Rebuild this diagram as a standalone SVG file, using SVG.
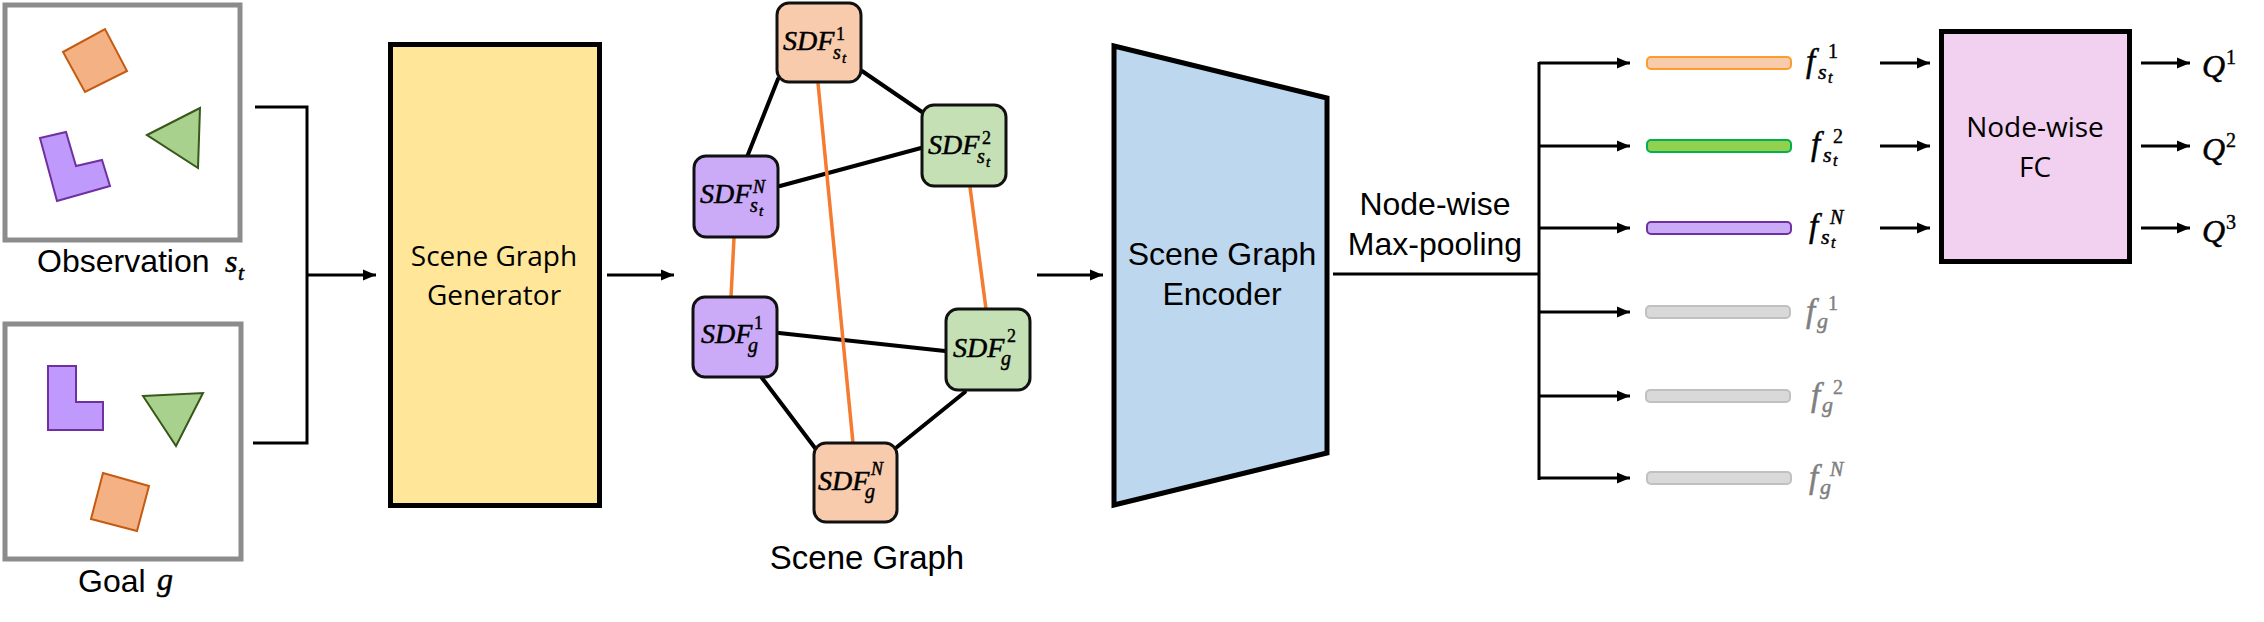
<svg xmlns="http://www.w3.org/2000/svg" width="2264" height="622" viewBox="0 0 2264 622">
<style>
.sans{font-family:"Liberation Sans",Arial,sans-serif;fill:#000}
.cal{font-family:"Open Sans","Noto Sans",sans-serif;fill:#000}
.m{font-family:"Liberation Serif","Times New Roman",serif;font-style:italic;fill:#000;stroke:#000;stroke-width:0.5}
.d{font-style:normal;stroke-width:0.4}
.gray{fill:#7f7f7f;stroke:#7f7f7f}
.frame{fill:#fff;stroke:#8c8c8c;stroke-width:5}
.node{stroke:#111;stroke-width:3}
.conn{fill:none;stroke:#000;stroke-width:3}
.edge{stroke:#000;stroke-width:4;stroke-linecap:round}
.oedge{stroke:#f57b30;stroke-width:3.5}
.bar{stroke-width:2}
</style>
<defs>
<marker id="ah" markerUnits="userSpaceOnUse" markerWidth="14" markerHeight="12" refX="13" refY="6" orient="auto">
<path d="M0,0.5 L13,6 L0,11.5 z" fill="#000"/>
</marker>
</defs>

<g id="observation">
<rect class="frame" x="5" y="5" width="235" height="235"/>
<polygon points="63,52 105,29 127,71 85,92" fill="#f4b183" stroke="#c55a11" stroke-width="2"/>
<polygon points="40,138 66,132 76,166 102,160 110,186 57,201" fill="#bf99fb" stroke="#7030a0" stroke-width="2"/>
<polygon points="147,135 200,108 198,168" fill="#a9d18e" stroke="#38571a" stroke-width="2"/>
<text class="sans" x="37" y="272" font-size="32">Observation</text>
<text class="m" font-size="32"><tspan x="225" y="272">s</tspan><tspan x="238" y="280" font-size="22">t</tspan></text>
</g>

<g id="goal">
<rect class="frame" x="5" y="324" width="236" height="235"/>
<polygon points="48,366 76,366 76,402 103,402 103,430 48,430" fill="#bf99fb" stroke="#7030a0" stroke-width="2"/>
<polygon points="143,396 203,393 176,446" fill="#a9d18e" stroke="#38571a" stroke-width="2"/>
<polygon points="103,473 149,486 137,531 91,519" fill="#f4b183" stroke="#c55a11" stroke-width="2"/>
<text class="sans" x="78" y="592" font-size="32">Goal</text>
<text class="m" x="157" y="590" font-size="32">g</text>
</g>

<g id="generator">
<rect x="390.5" y="44.5" width="209" height="461" fill="#ffe699" stroke="#000" stroke-width="5"/>
<text class="cal" x="494" y="266" font-size="28" text-anchor="middle">Scene Graph</text>
<text class="cal" x="494" y="305" font-size="28" text-anchor="middle">Generator</text>
</g>

<g id="connectors">
<polyline class="conn" points="255,107 307,107 307,443 253,443"/>
<line class="conn" x1="307" y1="275" x2="376" y2="275" marker-end="url(#ah)"/>
<line class="conn" x1="607" y1="275" x2="674" y2="275" marker-end="url(#ah)"/>
<line class="conn" x1="1037" y1="275" x2="1103" y2="275" marker-end="url(#ah)"/>
<line class="conn" x1="1333" y1="274" x2="1539" y2="274"/>
<line class="conn" x1="1539" y1="62" x2="1539" y2="480"/>
<line class="conn" x1="1539" y1="63" x2="1630" y2="63" marker-end="url(#ah)"/>
<line class="conn" x1="1539" y1="146" x2="1630" y2="146" marker-end="url(#ah)"/>
<line class="conn" x1="1539" y1="228" x2="1630" y2="228" marker-end="url(#ah)"/>
<line class="conn" x1="1539" y1="312" x2="1630" y2="312" marker-end="url(#ah)"/>
<line class="conn" x1="1539" y1="396" x2="1630" y2="396" marker-end="url(#ah)"/>
<line class="conn" x1="1539" y1="478" x2="1630" y2="478" marker-end="url(#ah)"/>
<line class="conn" x1="1880" y1="63" x2="1930" y2="63" marker-end="url(#ah)"/>
<line class="conn" x1="1880" y1="146" x2="1930" y2="146" marker-end="url(#ah)"/>
<line class="conn" x1="1880" y1="228" x2="1930" y2="228" marker-end="url(#ah)"/>
<line class="conn" x1="2141" y1="63" x2="2190" y2="63" marker-end="url(#ah)"/>
<line class="conn" x1="2141" y1="146" x2="2190" y2="146" marker-end="url(#ah)"/>
<line class="conn" x1="2141" y1="228" x2="2190" y2="228" marker-end="url(#ah)"/>
</g>

<g id="graph-edges">
<line class="edge" x1="778" y1="79" x2="747" y2="157"/>
<line class="edge" x1="862" y1="71" x2="922" y2="112"/>
<line class="edge" x1="780" y1="186" x2="921" y2="148"/>
<line class="edge" x1="779" y1="333" x2="945" y2="351"/>
<line class="edge" x1="762" y1="378" x2="815" y2="448"/>
<line class="edge" x1="965" y1="392" x2="897" y2="447"/>
<line class="oedge" x1="818" y1="83" x2="853" y2="443"/>
<line class="oedge" x1="734" y1="238" x2="731" y2="297"/>
<line class="oedge" x1="970" y1="187" x2="986" y2="309"/>
</g>

<g id="node-st1">
<rect class="node" x="777" y="3" width="84" height="79" rx="12" fill="#f8cbad"/>
<text class="m" font-size="28"><tspan x="783" y="50">SDF</tspan><tspan class="d" x="836" y="40" font-size="18">1</tspan><tspan x="833" y="59" font-size="20">s</tspan><tspan x="842" y="63" font-size="15">t</tspan></text>
</g>
<g id="node-stN">
<rect class="node" x="694" y="156" width="84" height="81" rx="12" fill="#cbaaf8"/>
<text class="m" font-size="28"><tspan x="700" y="203">SDF</tspan><tspan x="753" y="193" font-size="18">N</tspan><tspan x="750" y="212" font-size="20">s</tspan><tspan x="759" y="216" font-size="15">t</tspan></text>
</g>
<g id="node-st2">
<rect class="node" x="922" y="105" width="84" height="81" rx="12" fill="#c5e0b4"/>
<text class="m" font-size="28"><tspan x="928" y="154">SDF</tspan><tspan class="d" x="982" y="144" font-size="18">2</tspan><tspan x="977" y="163" font-size="20">s</tspan><tspan x="986" y="167" font-size="15">t</tspan></text>
</g>
<g id="node-g1">
<rect class="node" x="693" y="297" width="84" height="80" rx="12" fill="#cbaaf8"/>
<text class="m" font-size="28"><tspan x="701" y="343">SDF</tspan><tspan class="d" x="754" y="329" font-size="18">1</tspan><tspan x="748" y="352" font-size="20">g</tspan></text>
</g>
<g id="node-g2">
<rect class="node" x="946" y="309" width="84" height="81" rx="12" fill="#c5e0b4"/>
<text class="m" font-size="28"><tspan x="953" y="357">SDF</tspan><tspan class="d" x="1007" y="342" font-size="18">2</tspan><tspan x="1001" y="365" font-size="20">g</tspan></text>
</g>
<g id="node-gN">
<rect class="node" x="814" y="443" width="83" height="79" rx="12" fill="#f8cbad"/>
<text class="m" font-size="28"><tspan x="818" y="490">SDF</tspan><tspan x="871" y="475" font-size="18">N</tspan><tspan x="865" y="498" font-size="20">g</tspan></text>
</g>
<text id="scene-graph-label" class="sans" x="867" y="569" font-size="33" text-anchor="middle">Scene Graph</text>

<g id="encoder">
<polygon points="1114,46 1327,98 1327,453 1114,505" fill="#bdd7ee" stroke="#000" stroke-width="5" stroke-linejoin="miter"/>
<text class="sans" x="1222" y="265" font-size="32" text-anchor="middle">Scene Graph</text>
<text class="sans" x="1222" y="305" font-size="32" text-anchor="middle">Encoder</text>
</g>
<g id="pool-label">
<text class="sans" x="1435" y="215" font-size="32" text-anchor="middle">Node-wise</text>
<text class="sans" x="1435" y="255" font-size="32" text-anchor="middle">Max-pooling</text>
</g>

<g id="feat-st1">
<rect class="bar" x="1647" y="57" width="144" height="12" rx="4" fill="#f8cbad" stroke="#ff9b2a"/>
<text class="m" font-size="33"><tspan x="1806" y="72">f</tspan><tspan class="d" x="1828" y="58" font-size="20">1</tspan><tspan x="1818" y="79" font-size="22">s</tspan><tspan x="1828" y="83" font-size="16">t</tspan></text>
</g>
<g id="feat-st2">
<rect class="bar" x="1647" y="140" width="144" height="12" rx="4" fill="#92d050" stroke="#00b050"/>
<text class="m" font-size="33"><tspan x="1811" y="155">f</tspan><tspan class="d" x="1833" y="143" font-size="20">2</tspan><tspan x="1823" y="162" font-size="22">s</tspan><tspan x="1833" y="166" font-size="16">t</tspan></text>
</g>
<g id="feat-stN">
<rect class="bar" x="1647" y="222" width="144" height="12" rx="4" fill="#cbaaf8" stroke="#7030a0"/>
<text class="m" font-size="33"><tspan x="1809" y="237">f</tspan><tspan x="1830" y="224" font-size="20">N</tspan><tspan x="1821" y="244" font-size="22">s</tspan><tspan x="1831" y="248" font-size="16">t</tspan></text>
</g>
<g id="feat-g1">
<rect class="bar" x="1646" y="306" width="144" height="12" rx="4" fill="#d9d9d9" stroke="#c0c0c0"/>
<text class="m gray" font-size="33"><tspan x="1806" y="322">f</tspan><tspan class="d" x="1828" y="310" font-size="20">1</tspan><tspan x="1817" y="328" font-size="22">g</tspan></text>
</g>
<g id="feat-g2">
<rect class="bar" x="1646" y="390" width="144" height="12" rx="4" fill="#d9d9d9" stroke="#c0c0c0"/>
<text class="m gray" font-size="33"><tspan x="1811" y="406">f</tspan><tspan class="d" x="1833" y="394" font-size="20">2</tspan><tspan x="1822" y="412" font-size="22">g</tspan></text>
</g>
<g id="feat-gN">
<rect class="bar" x="1647" y="472" width="144" height="12" rx="4" fill="#d9d9d9" stroke="#c0c0c0"/>
<text class="m gray" font-size="33"><tspan x="1809" y="488">f</tspan><tspan x="1830" y="476" font-size="20">N</tspan><tspan x="1820" y="494" font-size="22">g</tspan></text>
</g>

<g id="fc">
<rect x="1941.5" y="31.5" width="188" height="230" fill="#f2d0f0" stroke="#000" stroke-width="5"/>
<text class="cal" x="2035" y="137" font-size="28" text-anchor="middle">Node-wise</text>
<text class="cal" x="2035" y="177" font-size="28" text-anchor="middle">FC</text>
</g>

<g id="q-outputs">
<text class="m" font-size="32"><tspan x="2202" y="77">Q</tspan><tspan class="d" x="2226" y="64" font-size="20">1</tspan></text>
<text class="m" font-size="32"><tspan x="2202" y="160">Q</tspan><tspan class="d" x="2226" y="147" font-size="20">2</tspan></text>
<text class="m" font-size="32"><tspan x="2202" y="242">Q</tspan><tspan class="d" x="2226" y="229" font-size="20">3</tspan></text>
</g>
</svg>
